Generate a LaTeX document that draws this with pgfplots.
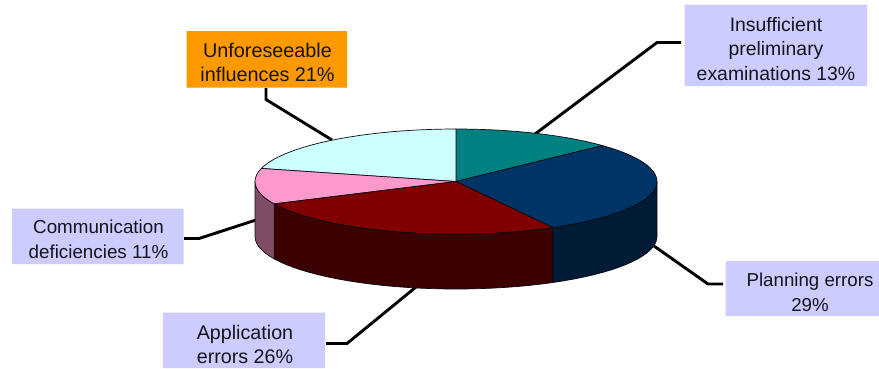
\documentclass[border=0pt]{standalone}
\usepackage{fontspec}
\setmainfont{Liberation Sans}
\usepackage{pgfplots}
\usepackage{pgfplotstable}
\pgfplotsset{compat=1.18}

\definecolor{cTeal}{HTML}{008080}
\definecolor{cNavy}{HTML}{003366}
\definecolor{cRed}{HTML}{800000}
\definecolor{cPink}{HTML}{FF99CC}
\definecolor{cCyan}{HTML}{CCFFFF}
\definecolor{sNavy}{HTML}{001B36}
\definecolor{sRed}{HTML}{3C0000}
\definecolor{sPink}{HTML}{804D66}
\definecolor{cBox}{HTML}{CCCCFF}
\definecolor{cOrange}{HTML}{FF9900}
\definecolor{cText}{HTML}{14141C}
\definecolor{cEdge}{HTML}{0A0A14}

% Each row: p = position round the pie in percent, r = 0 centre / 1 rim,
% h = 0 upper face / 1 lower edge of the slab.
\newcommand{\piex}{456+201*\thisrow{r}*cos(90-3.6*\thisrow{p})}
\newcommand{\piey}{181.5-52.5*\thisrow{r}*sin(90-3.6*\thisrow{p})+55*\thisrow{h}}

% Upper faces: teal 13, navy 29, red 26, pink 11, cyan 21
\pgfplotstableread[row sep=\\]{
p r h\\ 0 0 0\\ 0 1 0\\ 1 1 0\\ 2 1 0\\ 3 1 0\\ 4 1 0\\ 5 1 0\\ 6 1 0\\ 7 1 0\\ 8 1 0\\ 9 1 0\\ 10 1 0\\ 11 1 0\\ 12 1 0\\ 13 1 0\\ 0 0 0\\
}\tealTop
\pgfplotstableread[row sep=\\]{
p r h\\ 13 0 0\\ 13 1 0\\ 14 1 0\\ 15 1 0\\ 16 1 0\\ 17 1 0\\ 18 1 0\\ 19 1 0\\ 20 1 0\\ 21 1 0\\ 22 1 0\\ 23 1 0\\ 24 1 0\\ 25 1 0\\ 26 1 0\\ 27 1 0\\ 28 1 0\\ 29 1 0\\ 30 1 0\\ 31 1 0\\ 32 1 0\\ 33 1 0\\ 34 1 0\\ 35 1 0\\ 36 1 0\\ 37 1 0\\ 38 1 0\\ 39 1 0\\ 40 1 0\\ 41 1 0\\ 42 1 0\\ 13 0 0\\
}\navyTop
\pgfplotstableread[row sep=\\]{
p r h\\ 42 0 0\\ 42 1 0\\ 43 1 0\\ 44 1 0\\ 45 1 0\\ 46 1 0\\ 47 1 0\\ 48 1 0\\ 49 1 0\\ 50 1 0\\ 51 1 0\\ 52 1 0\\ 53 1 0\\ 54 1 0\\ 55 1 0\\ 56 1 0\\ 57 1 0\\ 58 1 0\\ 59 1 0\\ 60 1 0\\ 61 1 0\\ 62 1 0\\ 63 1 0\\ 64 1 0\\ 65 1 0\\ 66 1 0\\ 67 1 0\\ 68 1 0\\ 42 0 0\\
}\redTop
\pgfplotstableread[row sep=\\]{
p r h\\ 68 0 0\\ 68 1 0\\ 69 1 0\\ 70 1 0\\ 71 1 0\\ 72 1 0\\ 73 1 0\\ 74 1 0\\ 75 1 0\\ 76 1 0\\ 77 1 0\\ 78 1 0\\ 79 1 0\\ 68 0 0\\
}\pinkTop
\pgfplotstableread[row sep=\\]{
p r h\\ 79 0 0\\ 79 1 0\\ 80 1 0\\ 81 1 0\\ 82 1 0\\ 83 1 0\\ 84 1 0\\ 85 1 0\\ 86 1 0\\ 87 1 0\\ 88 1 0\\ 89 1 0\\ 90 1 0\\ 91 1 0\\ 92 1 0\\ 93 1 0\\ 94 1 0\\ 95 1 0\\ 96 1 0\\ 97 1 0\\ 98 1 0\\ 99 1 0\\ 100 1 0\\ 79 0 0\\
}\cyanTop

% Visible side walls of the slab
\pgfplotstableread[row sep=\\]{
p r h\\ 25 1 0\\ 26 1 0\\ 27 1 0\\ 28 1 0\\ 29 1 0\\ 30 1 0\\ 31 1 0\\ 32 1 0\\ 33 1 0\\ 34 1 0\\ 35 1 0\\ 36 1 0\\ 37 1 0\\ 38 1 0\\ 39 1 0\\ 40 1 0\\ 41 1 0\\ 42 1 0\\
42 1 1\\ 41 1 1\\ 40 1 1\\ 39 1 1\\ 38 1 1\\ 37 1 1\\ 36 1 1\\ 35 1 1\\ 34 1 1\\ 33 1 1\\ 32 1 1\\ 31 1 1\\ 30 1 1\\ 29 1 1\\ 28 1 1\\ 27 1 1\\ 26 1 1\\ 25 1 1\\ 25 1 0\\
}\navySide
\pgfplotstableread[row sep=\\]{
p r h\\ 42 1 0\\ 43 1 0\\ 44 1 0\\ 45 1 0\\ 46 1 0\\ 47 1 0\\ 48 1 0\\ 49 1 0\\ 50 1 0\\ 51 1 0\\ 52 1 0\\ 53 1 0\\ 54 1 0\\ 55 1 0\\ 56 1 0\\ 57 1 0\\ 58 1 0\\ 59 1 0\\ 60 1 0\\ 61 1 0\\ 62 1 0\\ 63 1 0\\ 64 1 0\\ 65 1 0\\ 66 1 0\\ 67 1 0\\ 68 1 0\\
68 1 1\\ 67 1 1\\ 66 1 1\\ 65 1 1\\ 64 1 1\\ 63 1 1\\ 62 1 1\\ 61 1 1\\ 60 1 1\\ 59 1 1\\ 58 1 1\\ 57 1 1\\ 56 1 1\\ 55 1 1\\ 54 1 1\\ 53 1 1\\ 52 1 1\\ 51 1 1\\ 50 1 1\\ 49 1 1\\ 48 1 1\\ 47 1 1\\ 46 1 1\\ 45 1 1\\ 44 1 1\\ 43 1 1\\ 42 1 1\\ 42 1 0\\
}\redSide
\pgfplotstableread[row sep=\\]{
p r h\\ 68 1 0\\ 69 1 0\\ 70 1 0\\ 71 1 0\\ 72 1 0\\ 73 1 0\\ 74 1 0\\ 75 1 0\\
75 1 1\\ 74 1 1\\ 73 1 1\\ 72 1 1\\ 71 1 1\\ 70 1 1\\ 69 1 1\\ 68 1 1\\ 68 1 0\\
}\pinkSide

\pgfplotsset{
  face/.style={draw=cEdge, line width=0.7pt, line join=round, no markers},
  leader/.style={black, line width=2.9pt, line join=miter, no markers},
}
\tikzset{tag/.style={inner sep=0pt, align=center, text=cText}}
\newcommand{\labelfont}[1]{\fontsize{#1}{24.8}\selectfont}

\begin{document}
\begin{tikzpicture}
\path (0,0) rectangle (879pt,368pt);
\begin{axis}[
  at={(0,0)}, anchor=south west,
  scale only axis, width=879pt, height=368pt,
  xmin=0, xmax=879, ymin=0, ymax=368,
  y dir=reverse, hide axis, clip=true,
]
% Leader lines
\addplot[leader] coordinates {(266,88) (266,99.5) (332,140)};
\addplot[leader] coordinates {(184,238.5) (199,238.5) (256,220)};
\addplot[leader] coordinates {(326,343.5) (347,343.5) (416,287)};
\addplot[leader] coordinates {(681,42.5) (657,42.5) (535,134)};
\addplot[leader] coordinates {(723,284) (708,284) (654,246)};

% Side walls
\addplot[face, fill=sNavy] table[x expr=\piex, y expr=\piey] {\navySide};
\addplot[face, fill=sRed] table[x expr=\piex, y expr=\piey] {\redSide};
\addplot[face, fill=sPink] table[x expr=\piex, y expr=\piey] {\pinkSide};

% Upper faces
\addplot[face, fill=cTeal] table[x expr=\piex, y expr=\piey] {\tealTop};
\addplot[face, fill=cCyan] table[x expr=\piex, y expr=\piey] {\cyanTop};
\addplot[face, fill=cPink] table[x expr=\piex, y expr=\piey] {\pinkTop};
\addplot[face, fill=cNavy] table[x expr=\piex, y expr=\piey] {\navyTop};
\addplot[face, fill=cRed] table[x expr=\piex, y expr=\piey] {\redTop};

% Label boxes
\addplot[draw=none, fill=cOrange] coordinates {(186.5,31) (347,31) (347,87.5) (186.5,87.5) (186.5,31)};
\addplot[draw=none, fill=cBox] coordinates {(12,208.5) (183.5,208.5) (183.5,264) (12,264) (12,208.5)};
\addplot[draw=none, fill=cBox] coordinates {(163,312.5) (325,312.5) (325,368) (163,368) (163,312.5)};
\addplot[draw=none, fill=cBox] coordinates {(684.5,4.5) (867,4.5) (867,86) (684.5,86) (684.5,4.5)};
\addplot[draw=none, fill=cBox] coordinates {(725.5,261) (879,261) (879,316) (725.5,316) (725.5,261)};

% Label texts
\node[tag, font=\labelfont{19.8}] at (axis cs:267.5,62.5) {Unforeseeable\\influences 21\%};
\node[tag, font=\labelfont{18.8}] at (axis cs:98.5,239.5) {Communication\\deficiencies 11\%};
\node[tag, font=\labelfont{19.7}] at (axis cs:245,344.5) {Application\\errors 26\%};
\node[tag, font=\labelfont{19.4}] at (axis cs:776,49) {Insufficient\\preliminary\\examinations 13\%};
\node[tag, font=\labelfont{18.7}] at (axis cs:810,292.5) {Planning errors\\29\%};
\end{axis}
\end{tikzpicture}
\end{document}
